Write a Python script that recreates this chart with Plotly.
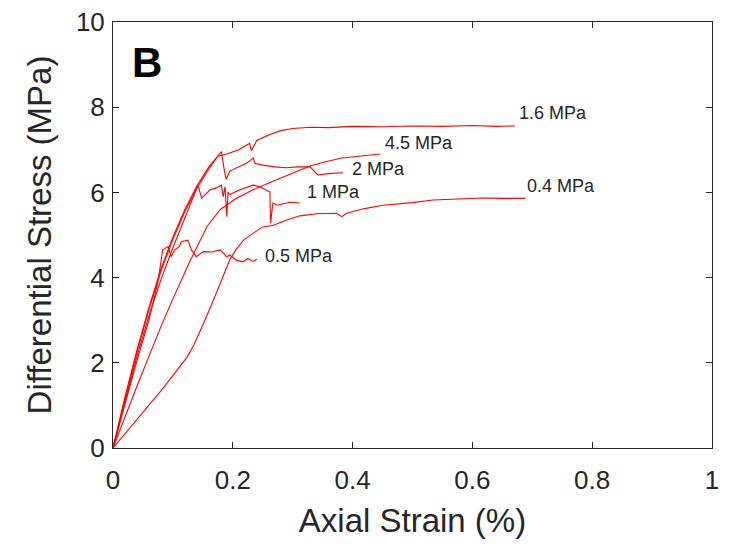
import plotly.graph_objects as go

# Stress-strain curves (strain in %, stress in MPa)
strain_16 = [0, 0.02, 0.04, 0.06, 0.08, 0.10, 0.12, 0.14, 0.16, 0.175, 0.19, 0.21, 0.228, 0.231,
             0.24, 0.26, 0.28, 0.30, 0.33, 0.36, 0.40, 0.45, 0.50, 0.55, 0.60, 0.64, 0.671]
stress_16 = [0, 1.2, 2.3, 3.3, 4.2, 4.95, 5.6, 6.15, 6.6, 6.85, 6.9, 7.0, 7.15, 6.98,
             7.22, 7.35, 7.45, 7.5, 7.53, 7.52, 7.55, 7.54, 7.56, 7.55, 7.57, 7.55, 7.56]

strain_45 = [0, 0.02, 0.04, 0.06, 0.08, 0.10, 0.129, 0.157, 0.179, 0.205, 0.234, 0.26,
             0.284, 0.31, 0.329, 0.355, 0.38, 0.41, 0.446]
stress_45 = [0, 0.75, 1.45, 2.15, 2.85, 3.5, 4.4, 5.2, 5.6, 5.85, 6.06, 6.22,
             6.36, 6.52, 6.62, 6.72, 6.8, 6.85, 6.9]

strain_2 = [0, 0.02, 0.04, 0.06, 0.08, 0.10, 0.12, 0.14, 0.16, 0.175, 0.181, 0.186, 0.189,
            0.195, 0.21, 0.225, 0.234, 0.237, 0.25, 0.27, 0.29, 0.307, 0.329, 0.342, 0.36, 0.384]
stress_2 = [0, 1.15, 2.25, 3.25, 4.15, 4.9, 5.55, 6.1, 6.55, 6.85, 6.96, 6.5, 6.31,
            6.5, 6.6, 6.7, 6.81, 6.68, 6.64, 6.6, 6.58, 6.6, 6.6, 6.41, 6.44, 6.46]

strain_1 = [0, 0.02, 0.04, 0.06, 0.08, 0.10, 0.12, 0.135, 0.142, 0.148, 0.162, 0.172, 0.181,
            0.184, 0.187, 0.19, 0.192, 0.195, 0.21, 0.234, 0.245, 0.262, 0.263, 0.267,
            0.274, 0.295, 0.312]
stress_1 = [0, 1.1, 2.15, 3.1, 3.95, 4.7, 5.4, 5.9, 6.17, 5.86, 6.06, 6.1, 6.17,
            5.9, 6.13, 5.43, 6.0, 5.95, 6.05, 6.17, 6.13, 6.01, 5.28, 5.75,
            5.7, 5.77, 5.75]

strain_05 = [0, 0.02, 0.04, 0.06, 0.075, 0.083, 0.092, 0.097, 0.103, 0.111, 0.114, 0.125,
             0.131, 0.139, 0.151, 0.165, 0.179, 0.19, 0.195, 0.206, 0.217, 0.225, 0.234, 0.24]
stress_05 = [0, 1.05, 2.05, 3.0, 3.9, 4.65, 4.73, 4.49, 4.65, 4.73, 4.84, 4.88,
             4.65, 4.49, 4.61, 4.6, 4.65, 4.49, 4.53, 4.41, 4.37, 4.45, 4.38, 4.43]

strain_04 = [0, 0.02, 0.04, 0.06, 0.08, 0.10, 0.112, 0.124, 0.135, 0.145, 0.155, 0.165, 0.175,
             0.185, 0.195, 0.205, 0.218, 0.235, 0.25, 0.268, 0.29, 0.312, 0.34, 0.373,
             0.382, 0.39, 0.42, 0.451, 0.5, 0.534, 0.58, 0.618, 0.65, 0.688]
stress_04 = [0, 0.33, 0.66, 1.0, 1.34, 1.7, 1.92, 2.14, 2.42, 2.72, 3.05, 3.38, 3.73,
             4.08, 4.42, 4.65, 4.88, 5.05, 5.19, 5.23, 5.35, 5.45, 5.5, 5.51,
             5.43, 5.51, 5.62, 5.7, 5.76, 5.82, 5.84, 5.87, 5.86, 5.86]

curves = [
    ("1.6 MPa", strain_16, stress_16),
    ("4.5 MPa", strain_45, stress_45),
    ("2 MPa", strain_2, stress_2),
    ("1 MPa", strain_1, stress_1),
    ("0.5 MPa", strain_05, stress_05),
    ("0.4 MPa", strain_04, stress_04),
]

# label anchor points (left edge of text)
label_names = ["1.6 MPa", "4.5 MPa", "2 MPa", "1 MPa", "0.4 MPa", "0.5 MPa"]
label_x = [0.674, 0.451, 0.396, 0.321, 0.688, 0.25]
label_y = [7.86, 7.15, 6.56, 6.01, 6.16, 4.51]

TXT = "#262626"
FONT = "Liberation Sans, Arial, sans-serif"

fig = go.Figure()
for name, xs, ys in curves:
    fig.add_trace(go.Scatter(x=xs, y=ys, mode="lines", name=name,
                             line=dict(color="#ff0000", width=1.1)))

for name, lx, ly in zip(label_names, label_x, label_y):
    fig.add_annotation(x=lx, y=ly, text=name, showarrow=False, xanchor="left",
                       yanchor="middle", font=dict(size=18, color=TXT, family=FONT))

fig.add_annotation(x=0.057, y=9.04, text="<b>B</b>", showarrow=False,
                   font=dict(size=42, color="#000000", family=FONT))

axis_style = dict(showline=True, linecolor=TXT, linewidth=1, mirror="allticks",
                  ticks="inside", ticklen=6, tickcolor=TXT, showgrid=False,
                  zeroline=False, automargin=False,
                  tickfont=dict(size=26, color=TXT, family=FONT))

fig.update_xaxes(range=[0, 1], tickvals=[0, 0.2, 0.4, 0.6, 0.8, 1],
                 ticktext=["0", "0.2", "0.4", "0.6", "0.8", "1"],
                 ticklabelstandoff=9,
                 title=dict(text="Axial Strain (%)", font=dict(size=33, color=TXT, family=FONT),
                            standoff=14),
                 **axis_style)
fig.update_yaxes(range=[0, 10], tickvals=[0, 2, 4, 6, 8, 10],
                 ticklabelstandoff=2,
                 title=dict(text="Differential Stress (MPa)", font=dict(size=33, color=TXT, family=FONT),
                            standoff=14),
                 **axis_style)

fig.update_layout(width=731, height=555, showlegend=False,
                  margin=dict(l=113, r=19, t=22, b=107),
                  plot_bgcolor="white", paper_bgcolor="white")

# drop the default 8px body margin so the figure sits at the page origin
fig.write_html("out.html", config={"displayModeBar": False},
               post_script="document.body.style.margin='0';document.body.style.overflow='hidden';")
